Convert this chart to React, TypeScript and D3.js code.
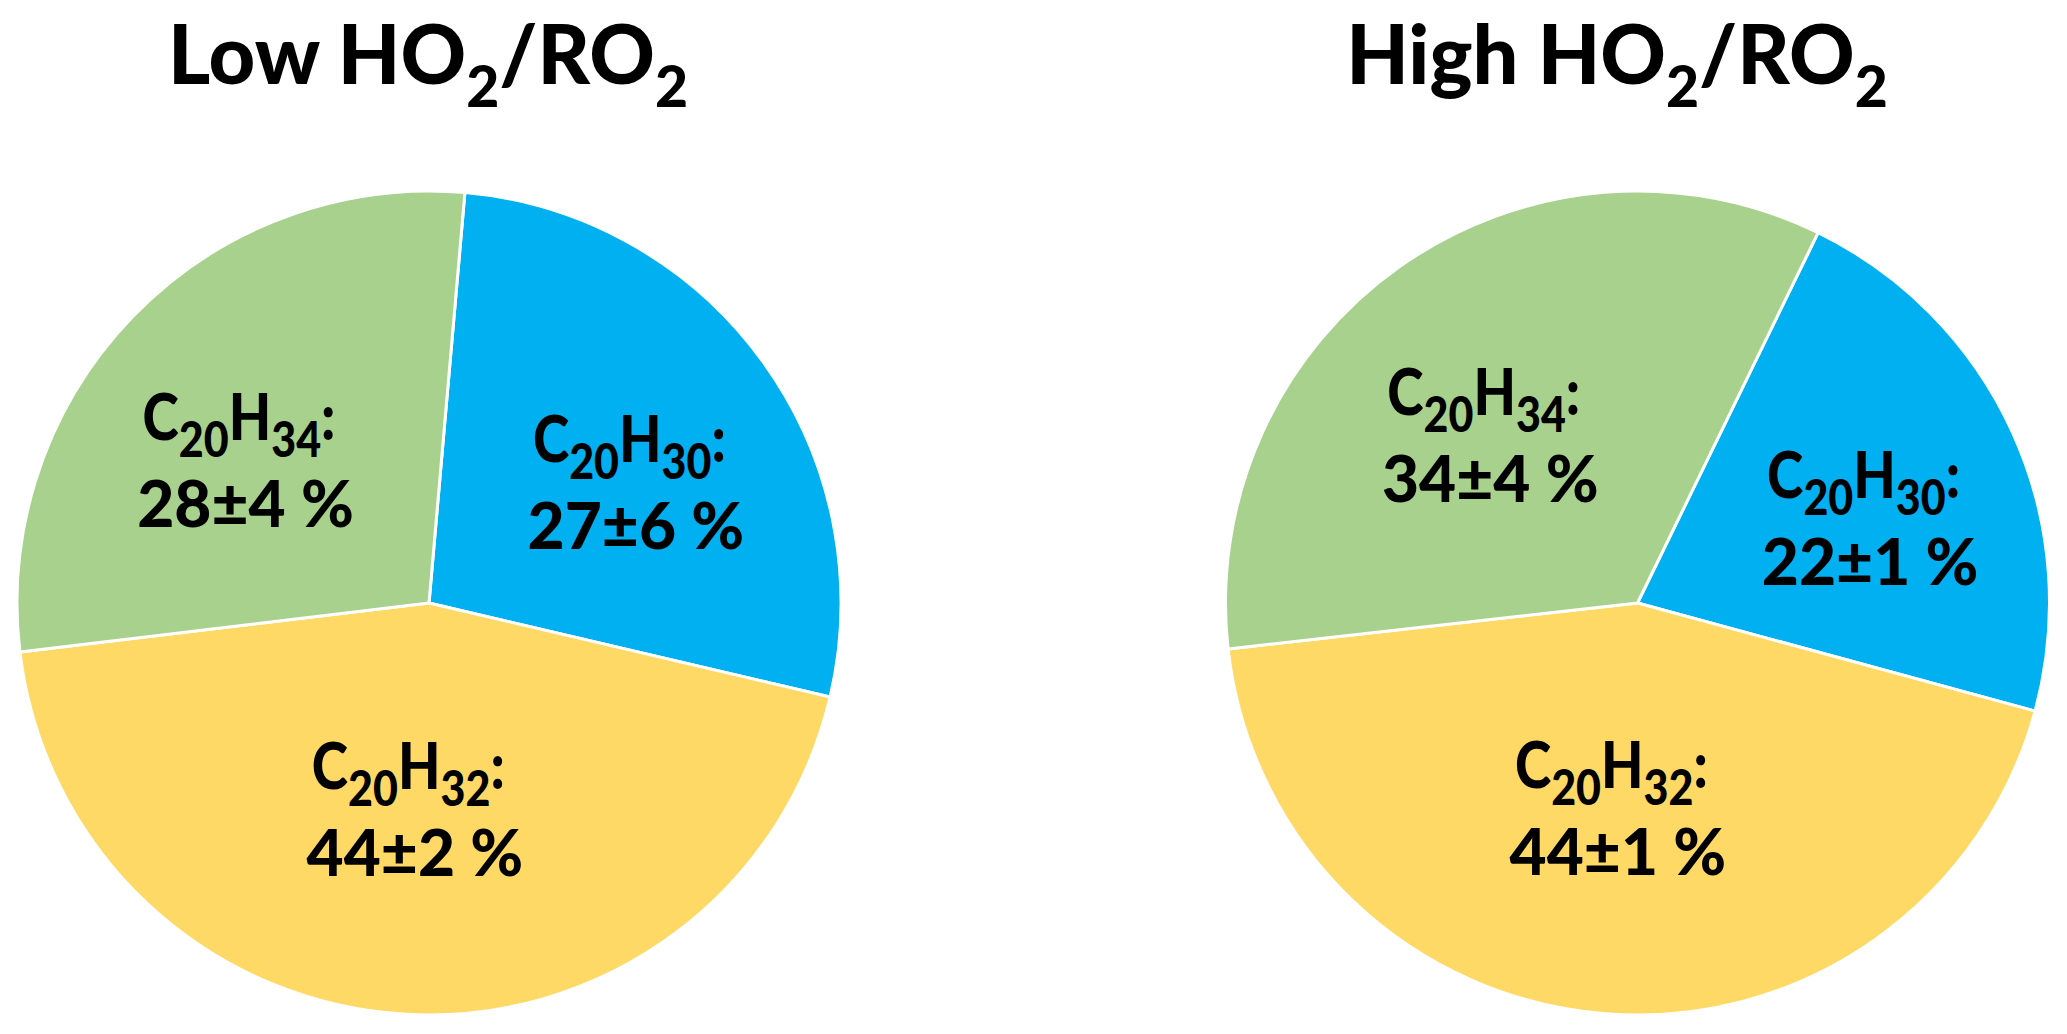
import React from "react";
import * as d3 from "d3";

const W = 2067;
const H = 1034;

// Data
const categories = ["C20H30", "C20H32", "C20H34"];
const sliceColors = ["#00B0F0", "#FFD966", "#A9D18E"];
const lowValues = [27, 44, 28];
const lowErrors = [6, 2, 4];
const highValues = [22, 44, 34];
const highErrors = [1, 1, 4];
const panelTitles = ["Low", "High"];

// Layout
const FONT = "Lato, 'Open Sans', sans-serif";
const LINE1_SX = 0.86;
const LINE2_SX = 1.0;
const TITLE_SX = 1.0;
const LABEL_RX = 0.62; // horizontal label radius factor
const LABEL_RY = 0.5; // vertical label radius factor

const panels = [
  { title: panelTitles[0], values: lowValues, errors: lowErrors, startDeg: 5, cx: 429, cy: 603, r: 412, titleX: 428 },
  { title: panelTitles[1], values: highValues, errors: highErrors, startDeg: 26, cx: 1637.5, cy: 603, r: 412, titleX: 1617 },
];

function formulaSpans(text: string, size: number, subSize: number, subDy: number) {
  // tokens: letters / digit groups / other characters
  const parts = text.match(/[A-Za-z]+|\d+|[^A-Za-z\d]+/g) || [];
  const out: React.ReactNode[] = [];
  let down = false;
  parts.forEach((p, i) => {
    const isNum = /^\d+$/.test(p);
    if (isNum) {
      out.push(
        <tspan key={i} fontSize={subSize} dy={down ? 0 : subDy}>
          {p}
        </tspan>
      );
      down = true;
    } else {
      out.push(
        <tspan key={i} fontSize={size} dy={down ? -subDy : 0}>
          {p}
        </tspan>
      );
      down = false;
    }
  });
  return out;
}

function Pie({ p }: { p: (typeof panels)[number] }) {
  const start = (p.startDeg * Math.PI) / 180;
  const pie = d3
    .pie<number>()
    .sort(null)
    .value((d) => d)
    .startAngle(start)
    .endAngle(start + 2 * Math.PI);
  const arcs = pie(p.values);
  const arc = d3.arc<d3.PieArcDatum<number>>().innerRadius(0).outerRadius(p.r);
  return (
    <g>
      <g transform={`translate(${p.cx},${p.cy})`}>
        {arcs.map((a, i) => (
          <path key={i} d={arc(a) || ""} fill={sliceColors[i]} stroke="#ffffff" strokeWidth={3} strokeLinejoin="round" />
        ))}
        {arcs.map((a, i) => {
          const mid = (a.startAngle + a.endAngle) / 2;
          const lx = Math.sin(mid) * p.r * LABEL_RX;
          const ly = -Math.cos(mid) * p.r * LABEL_RY;
          return (
            <g key={"l" + i} transform={`translate(${lx},${ly})`}>
              <g transform={`translate(0,-20) scale(${LINE1_SX},1)`}>
                <text
                  textAnchor="middle"
                  fontFamily={FONT}
                  fontWeight={900}
                  fontSize={64}
                  fill="#000"
                  style={{ whiteSpace: "pre" }}
                >
                  {formulaSpans(categories[i] + ":\u00A0", 64, 50, 17)}
                </text>
              </g>
              <g transform={`translate(0,67) scale(${LINE2_SX},1)`}>
                <text textAnchor="middle" fontFamily={FONT} fontWeight={900} fontSize={64} fill="#000">
                  {`${p.values[i]}±${p.errors[i]} %`}
                </text>
              </g>
            </g>
          );
        })}
      </g>
      <g transform={`translate(${p.titleX},84) scale(${TITLE_SX},1)`}>
        <text textAnchor="middle" fontFamily={FONT} fontWeight={900} fontSize={81} fill="#000">
          {formulaSpans(`${p.title} HO2/RO2`, 81, 57, 23)}
        </text>
      </g>
    </g>
  );
}

export default function App() {
  return (
    <svg
      width={W}
      height={H}
      viewBox={`0 0 ${W} ${H}`}
      style={{ position: "absolute", left: 0, top: 0, background: "#fff" }}
    >
      <rect width={W} height={H} fill="#fff" />
      {panels.map((p, i) => (
        <Pie key={i} p={p} />
      ))}
    </svg>
  );
}
